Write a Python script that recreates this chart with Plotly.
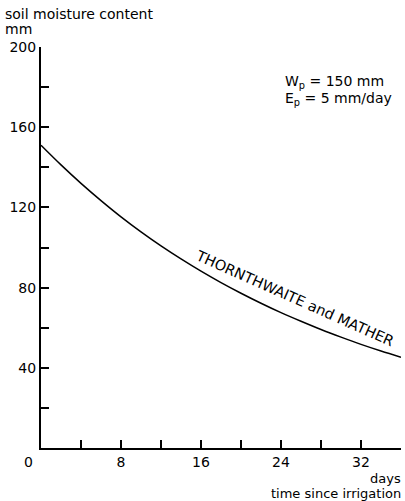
import plotly.graph_objects as go

days = [0, 2, 4, 6, 8, 10, 12, 14, 16, 18, 20, 22, 24, 26, 28, 30, 32, 34, 36]
moisture = [151, 141.2, 132, 123.4, 115.3, 107.8, 100.8, 94.3, 88.2, 82.5, 77.2,
            72.2, 67.5, 63.2, 59.1, 55.3, 51.7, 48.4, 45.3]

x_major = [8, 16, 24, 32]
x_labels = ["8", "16", "24", "32"]
x_minor = [4, 12, 20, 28, 36]
y_major = [40, 80, 120, 160, 200]
y_labels = ["40", "80", "120", "160", "200"]
y_minor = [20, 60, 100, 140, 180]

FONT = "DejaVu Sans"
L, T, R, B = 41, 47, 4, 53
W, H = 405, 501
PW, PH = W - L - R, H - T - B

def px(x):
    return (x - L) / PW

def py(y):
    return (H - B - y) / PH

fig = go.Figure()
fig.add_trace(go.Scatter(x=days, y=moisture, mode="lines",
                         line=dict(color="black", width=1.5, shape="spline", smoothing=1.0),
                         hoverinfo="skip", showlegend=False))

axis_common = dict(showline=True, linecolor="black", linewidth=2, showgrid=False,
                   zeroline=False, ticks="inside", ticklen=8, tickwidth=1.5,
                   tickcolor="black", tickmode="array",
                   tickfont=dict(family=FONT, size=14, color="black"))
minor_common = dict(ticks="inside", ticklen=8, tickwidth=1.5, tickcolor="black",
                    showgrid=False, tickmode="array")

fig.update_xaxes(range=[0, 36], tickvals=x_major, ticktext=x_labels,
                 minor=dict(tickvals=x_minor, **minor_common), **axis_common)
fig.update_yaxes(range=[0, 200], tickvals=y_major, ticktext=y_labels,
                 minor=dict(tickvals=y_minor, **minor_common), **axis_common)

ann_font = dict(family=FONT, size=14, color="black")
small_font = dict(family=FONT, size=13, color="black")
annotations = [
    dict(text="soil moisture content", x=px(3), y=py(14), xanchor="left", yanchor="middle"),
    dict(text="mm", x=px(3), y=py(29), xanchor="left", yanchor="middle"),
    dict(text="W<sub>p</sub> = 150 mm", x=px(283), y=py(82), xanchor="left", yanchor="middle"),
    dict(text="E<sub>p</sub> = 5 mm/day", x=px(283), y=py(99), xanchor="left", yanchor="middle"),
    dict(text="days", x=px(403), y=py(478), xanchor="right", yanchor="middle", font=small_font),
    dict(text="time since irrigation", x=px(403), y=py(493), xanchor="right",
         yanchor="middle", font=small_font),
    dict(text="0", x=px(28), y=py(462), xanchor="center", yanchor="middle"),
    dict(text="THORNTHWAITE and MATHER", x=px(294), y=py(298), xanchor="center",
         yanchor="middle", textangle=24, font=dict(family=FONT, size=14.5, color="black")),
]
for a in annotations:
    a.setdefault("font", ann_font)
    fig.add_annotation(xref="paper", yref="paper", showarrow=False, **a)

fig.update_layout(width=W, height=H, margin=dict(l=L, r=R, t=T, b=B),
                  paper_bgcolor="white", plot_bgcolor="white")

fig.write_html("out.html")
